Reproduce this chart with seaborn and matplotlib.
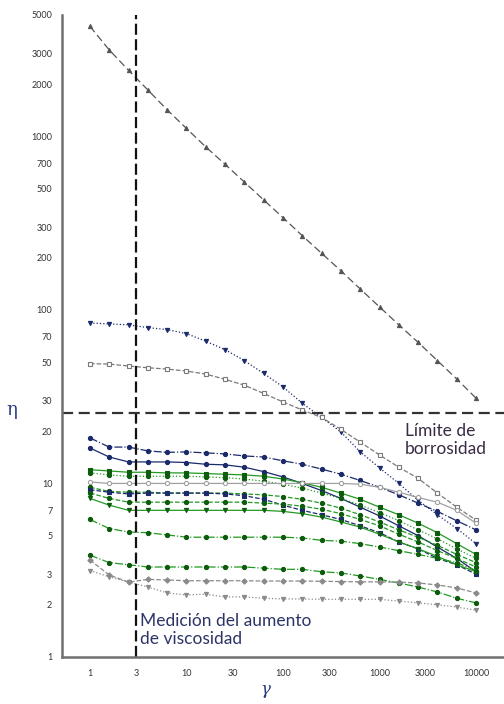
import matplotlib
matplotlib.use("Agg")
import matplotlib.pyplot as plt
import matplotlib.ticker as mticker
import seaborn as sns
import pandas as pd

# shear rate steps (log spaced)
gamma = [1, 1.58, 2.51, 3.98, 6.31, 10, 15.8, 25.1, 39.8, 63.1, 100,
         158, 251, 398, 631, 1000, 1585, 2512, 3981, 6310, 10000]

# viscosity curves
eta_top = [4300, 3150, 2400, 1850, 1420, 1110, 870, 690, 545, 430, 340,
           268, 212, 168, 132, 104, 82, 65, 51, 40, 31]
eta_navy_tri = [84, 83, 82, 79, 77, 73, 66, 59, 51, 43, 36,
                29, 24, 19.8, 15.2, 12.3, 10, 8.0, 6.6, 5.5, 4.5]
eta_grey_sq = [49, 48.7, 47.5, 46.4, 45.6, 44.4, 42.7, 39.8, 36.8, 33, 29.5,
               26.5, 24, 20.5, 17.3, 14.6, 12.4, 10.7, 8.8, 7.3, 6.15]
eta_navy_dd = [18.3, 16.2, 16.2, 15.4, 15.1, 15.2, 15.0, 14.8, 14.4, 14.2, 13.5,
               12.9, 12.1, 11.3, 10.4, 9.5, 8.6, 7.7, 6.9, 6.1, 5.4]
eta_navy_solid = [16.0, 14.2, 13.3, 13.3, 13.3, 13.2, 12.9, 12.8, 12.4, 11.7, 10.9,
                  10.0, 9.1, 8.2, 7.3, 6.5, 5.7, 5.0, 4.3, 3.7, 3.1]
eta_green_sq = [12.0, 11.8, 11.6, 11.6, 11.5, 11.5, 11.4, 11.3, 11.2, 11.0, 10.6,
                10.1, 9.5, 8.8, 8.1, 7.3, 6.6, 5.9, 5.2, 4.5, 3.9]
eta_green_dot = [11.5, 11.2, 11.0, 11.0, 11.0, 11.0, 10.9, 10.8, 10.6, 10.3, 9.9,
                 9.4, 8.8, 8.2, 7.5, 6.8, 6.1, 5.4, 4.8, 4.2, 3.7]
eta_grey_circ = [10.2, 10.0, 10.0, 10.0, 10.0, 10.0, 10.0, 10.0, 10.0, 10.0, 10.0,
                 10.0, 10.0, 10.0, 9.9, 9.5, 8.9, 8.3, 7.8, 7.0, 5.9]
eta_green_dash1 = [9.5, 9.0, 8.9, 8.9, 8.8, 8.8, 8.8, 8.8, 8.7, 8.6, 8.4,
                   8.1, 7.7, 7.2, 6.6, 6.0, 5.4, 4.9, 4.4, 3.9, 3.5]
eta_navy_dash = [9.2, 8.9, 8.7, 8.8, 8.8, 8.8, 8.8, 8.7, 8.5, 8.1, 7.5,
                 7.0, 6.6, 6.2, 5.7, 5.2, 4.6, 4.2, 3.7, 3.4, 3.0]
eta_green_dash2 = [8.8, 8.2, 7.8, 7.8, 7.8, 7.8, 7.8, 7.8, 7.8, 7.7, 7.6,
                   7.4, 7.1, 6.7, 6.2, 5.7, 5.1, 4.6, 4.1, 3.7, 3.3]
eta_green_tri = [8.2, 7.5, 7.0, 7.0, 7.0, 7.0, 7.0, 7.0, 7.0, 7.0, 6.9,
                 6.7, 6.4, 6.0, 5.6, 5.1, 4.6, 4.2, 3.8, 3.4, 3.1]
eta_green_dd1 = [6.2, 5.5, 5.25, 5.2, 5.05, 4.9, 4.9, 4.9, 4.9, 4.9, 4.9,
                 4.85, 4.7, 4.65, 4.5, 4.3, 4.1, 3.9, 3.7, 3.5, 3.15]
eta_green_dd2 = [3.86, 3.5, 3.4, 3.3, 3.3, 3.3, 3.3, 3.3, 3.3, 3.25, 3.2,
                 3.2, 3.1, 3.05, 2.93, 2.8, 2.67, 2.53, 2.37, 2.18, 2.05]
eta_grey_dia = [3.62, 2.97, 2.7, 2.8, 2.78, 2.75, 2.75, 2.75, 2.75, 2.74, 2.74,
                2.74, 2.73, 2.72, 2.71, 2.71, 2.7, 2.67, 2.6, 2.5, 2.34]
eta_grey_tri = [3.15, 2.9, 2.7, 2.53, 2.34, 2.28, 2.3, 2.22, 2.22, 2.18, 2.16,
                2.16, 2.15, 2.15, 2.15, 2.15, 2.1, 2.05, 2.0, 1.94, 1.86]

y_ticks = [1, 2, 3, 5, 7, 10, 20, 30, 50, 70, 100, 200, 300, 500, 700,
           1000, 2000, 3000, 5000]
x_ticks = [1, 3, 10, 30, 100, 300, 1000, 3000, 10000]
blur_limit = 25.4
measure_rate = 3

NAVY = '#1b2a6b'
GREEN = '#229a22'
GREY = '#8a8a8a'

# name, values, color, linestyle, marker, open marker
series = [
    ('top', eta_top, '#555555', (0, (6, 3)), '^', False),
    ('navy_tri', eta_navy_tri, NAVY, ':', 'v', False),
    ('grey_sq', eta_grey_sq, '#7a7a7a', '--', 's', True),
    ('navy_dd', eta_navy_dd, NAVY, '-.', 'o', False),
    ('navy_solid', eta_navy_solid, NAVY, '-', 'o', False),
    ('green_sq', eta_green_sq, GREEN, '-', 's', False),
    ('green_dot', eta_green_dot, GREEN, ':', 'o', False),
    ('grey_circ', eta_grey_circ, '#a0a0a0', '-', 'o', True),
    ('green_dash1', eta_green_dash1, GREEN, '--', 'o', False),
    ('navy_dash', eta_navy_dash, NAVY, '--', 's', False),
    ('green_dash2', eta_green_dash2, GREEN, '--', 'o', False),
    ('green_tri', eta_green_tri, GREEN, '-', 'v', False),
    ('green_dd1', eta_green_dd1, GREEN, '-.', 'o', False),
    ('green_dd2', eta_green_dd2, GREEN, '-.', 'o', False),
    ('grey_dia', eta_grey_dia, GREY, '--', 'D', False),
    ('grey_tri', eta_grey_tri, GREY, ':', 'v', False),
]

rows = []
for name, vals, *_ in series:
    for g, e in zip(gamma, vals):
        rows.append({'series': name, 'gamma': g, 'eta': e})
df = pd.DataFrame(rows)

sns.set_style('white')
plt.rcParams['font.family'] = ['Lato', 'DejaVu Sans']

fig = plt.figure(figsize=(5.04, 7.04), dpi=100)
ax = fig.add_axes([62 / 504, 1 - 657 / 704, 1 - 62 / 504, (657 - 15) / 704])

for name, vals, color, ls, mk, hollow in series:
    edge = '#0d5c0d' if color == GREEN else color
    sns.lineplot(data=df[df['series'] == name], x='gamma', y='eta', ax=ax,
                 color=color, linestyle=ls, linewidth=0.9, marker=mk,
                 markersize=3.0 if mk != 'D' else 2.7,
                 markerfacecolor='white' if hollow else edge,
                 markeredgecolor=edge, markeredgewidth=0.8,
                 estimator=None, sort=False, legend=False)

ax.set_xscale('log')
ax.set_yscale('log')
ax.set_xlim(0.513, 19500)
ax.set_ylim(1, 5000)

ax.axvline(measure_rate, color='#111111', linestyle=(0, (5, 2)), linewidth=1.6)
ax.axhline(blur_limit, color='#333333', linestyle=(0, (5, 2.5)), linewidth=1.6)

ax.yaxis.set_major_locator(mticker.FixedLocator(y_ticks))
ax.yaxis.set_major_formatter(mticker.FixedFormatter([str(v) for v in y_ticks]))
ax.yaxis.set_minor_locator(mticker.NullLocator())
ax.xaxis.set_major_locator(mticker.FixedLocator(x_ticks))
ax.xaxis.set_major_formatter(mticker.FixedFormatter([str(v) for v in x_ticks]))
ax.xaxis.set_minor_locator(mticker.NullLocator())
ax.tick_params(axis='both', which='major', direction='out', length=3,
               width=1, color='#555555', labelsize=6.5, labelcolor='#333333')
ax.tick_params(axis='y', pad=4)
ax.tick_params(axis='x', pad=6)

for side in ['top', 'right']:
    ax.spines[side].set_visible(False)
for side in ['left', 'bottom']:
    ax.spines[side].set_color('#707070')
    ax.spines[side].set_linewidth(1.8)

ax.set_xlabel('')
ax.set_ylabel('')
fig.text(12 / 504, 1 - 410 / 704, 'η', fontsize=13, color='#2a3a80',
         ha='center', va='center', family=['DejaVu Serif'])
fig.text(265 / 504, 1 - 690 / 704, 'γ', fontsize=12, color='#2a3a80',
         ha='center', va='center', family=['DejaVu Serif'], style='italic')

fig.text(140 / 504, 1 - 630 / 704, 'Medición del aumento\nde viscosidad',
         fontsize=12.5, color='#2c3566', ha='left', va='center',
         linespacing=1.15)
fig.text(405 / 504, 1 - 440 / 704, 'Límite de\nborrosidad',
         fontsize=12.5, color='#3a2c44', ha='left', va='center',
         linespacing=1.15)

fig.savefig('out.png', dpi=100)
plt.close(fig)
